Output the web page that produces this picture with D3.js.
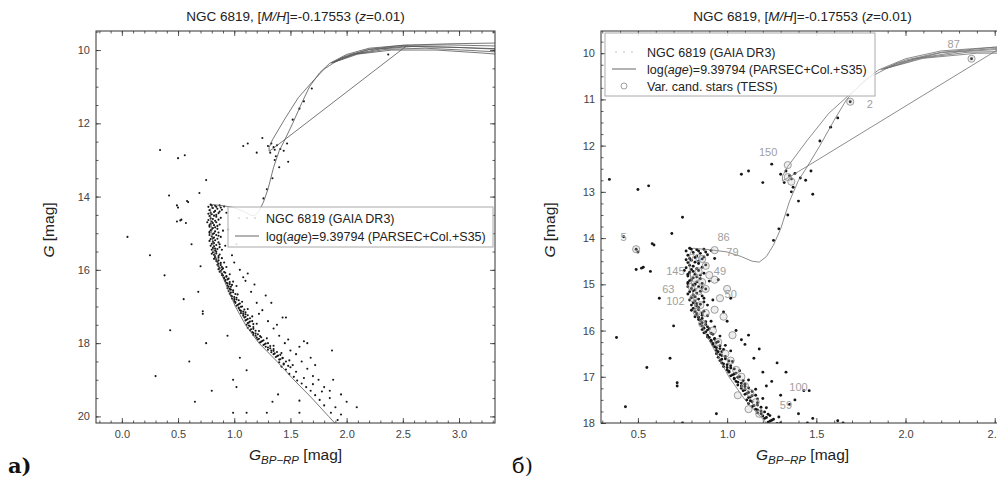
<!DOCTYPE html>
<html lang="ru">
<head>
<meta charset="UTF-8">
<title>NGC 6819 CMD</title>
<script src="https://d3js.org/d3.v7.min.js"></script>
<style>
  body { margin: 0; background: #fff; }
  svg { display: block; font-family: "Liberation Sans", Arial, sans-serif; }
  .axis path { display: none; }
  .axis line { stroke: #333; stroke-width: 0.8; }
  .axis text { fill: #444; font-size: 11px; font-family: "Liberation Sans", Arial, sans-serif; }
</style>
</head>
<body>
<svg id="chart" width="997" height="479"></svg>
<script>
// ---- data: [colour G_BP-RP, magnitude G] ----
const turnoffStars = [
  [0.79,14.22],[0.83,14.25],[0.87,14.24],[0.91,14.27],[0.81,14.31],[0.85,14.33],[0.78,14.37],[0.89,14.36],
  [0.82,14.42],[0.86,14.45],[0.80,14.48],[0.93,14.44],[0.78,14.53],[0.84,14.55],[0.88,14.58],[0.81,14.61],
  [0.77,14.64],[0.80,14.68],[0.84,14.70],[0.79,14.74],[0.82,14.78],[0.87,14.76],[0.78,14.82],[0.81,14.86],
  [0.85,14.88],[0.79,14.92],[0.83,14.95],[0.90,14.93],[0.78,14.99],[0.81,15.02],[0.84,15.05],[0.80,15.09],
  [0.82,15.12],[0.88,15.10],[0.79,15.16],[0.83,15.19],[0.81,15.23],[0.86,15.25],[0.80,15.29],[0.84,15.32],
  [0.82,15.36],[0.92,15.34],[0.81,15.40],[0.85,15.43],[0.83,15.47],[0.89,15.45]
];
const turnoffStars2 = [
  [0.80,14.24],[0.84,14.28],[0.88,14.30],[0.77,14.28],[0.83,14.39],[0.87,14.41],[0.79,14.44],[0.84,14.50],
  [0.77,14.47],[0.82,14.52],[0.86,14.63],[0.79,14.59],[0.83,14.66],[0.76,14.70],[0.81,14.72],[0.85,14.80],
  [0.78,14.78],[0.83,14.84],[0.80,14.90],[0.86,14.98],[0.78,14.96],[0.82,15.00],[0.86,15.07],[0.78,15.05],
  [0.81,15.14],[0.85,15.15],[0.78,15.21],[0.82,15.27],[0.87,15.30],[0.79,15.34],[0.83,15.42],[0.80,15.45],
  [0.87,15.38],[0.84,15.50]
];
const msStars = [
  [0.81,15.52],[0.84,15.55],[0.82,15.59],[0.86,15.62],[0.83,15.66],[0.89,15.68],[0.84,15.71],[0.86,15.74],
  [0.85,15.78],[0.91,15.80],[0.86,15.83],[0.88,15.87],[0.86,15.90],[0.93,15.92],[0.87,15.95],[0.89,15.99],
  [0.88,16.03],[0.91,16.06],[0.89,16.10],[0.96,16.12],[0.90,16.15],[0.93,16.19],[0.91,16.23],[0.94,16.26],
  [0.92,16.30],[0.99,16.32],[0.93,16.35],[0.96,16.39],[0.94,16.43],[0.97,16.46],[1.02,16.44],
  [0.94,16.50],[0.97,16.54],[0.95,16.58],[0.99,16.61],[0.96,16.65],[1.03,16.67],[0.97,16.70],[1.00,16.74],
  [0.98,16.78],[1.02,16.81],[1.00,16.85],[1.07,16.87],[1.01,16.90],[1.04,16.94],[1.02,16.98],[1.06,17.01],
  [1.04,17.05],[1.12,17.07],[1.05,17.10],[1.08,17.14],[1.06,17.18],[1.10,17.21],[1.08,17.25],[1.16,17.27],
  [1.09,17.30],[1.12,17.34],[1.10,17.38],[1.14,17.41],[1.12,17.45],[1.20,17.47],
  [1.11,17.50],[1.14,17.54],[1.12,17.58],[1.17,17.61],[1.14,17.65],[1.22,17.67],[1.16,17.70],[1.19,17.74],
  [1.17,17.78],[1.23,17.81],[1.20,17.85],[1.29,17.87],[1.21,17.90],[1.25,17.94],[1.23,17.98],[1.28,18.01],
  [1.26,18.05],[1.35,18.07],[1.28,18.10],[1.32,18.14],[1.30,18.18],[1.35,18.21],[1.33,18.25],[1.42,18.27],
  [1.35,18.30],[1.39,18.34],[1.37,18.38],[1.43,18.41],[1.40,18.45],[1.49,18.47]
];
const msStars2 = [
  [0.80,15.56],[0.83,15.63],[0.87,15.58],[0.82,15.70],[0.86,15.67],[0.84,15.76],[0.88,15.81],[0.85,15.86],
  [0.89,15.92],[0.86,15.98],[0.90,15.96],[0.87,16.05],[0.92,16.08],[0.89,16.14],[0.93,16.17],[0.91,16.21],
  [0.95,16.24],[0.92,16.28],[0.96,16.33],[0.94,16.37],[0.98,16.41],[0.95,16.46],
  [0.96,16.52],[0.99,16.56],[0.97,16.62],[1.01,16.66],[0.98,16.72],[1.02,16.76],[1.00,16.80],[1.04,16.83],
  [1.01,16.88],[1.05,16.92],[1.03,16.96],[1.07,17.00],[1.04,17.03],[1.09,17.08],[1.06,17.12],[1.10,17.16],
  [1.08,17.20],[1.12,17.24],[1.10,17.28],[1.14,17.32],[1.11,17.36],[1.16,17.40],[1.13,17.44],[1.17,17.48],
  [1.13,17.52],[1.17,17.56],[1.15,17.62],[1.19,17.66],[1.17,17.72],[1.21,17.76],[1.19,17.80],[1.24,17.84],
  [1.22,17.88],[1.26,17.92],[1.24,17.96],[1.30,18.00],[1.27,18.03],[1.32,18.08],[1.30,18.12],[1.35,18.16],
  [1.33,18.20],[1.38,18.24],[1.36,18.28],[1.41,18.32],[1.38,18.36],[1.43,18.40],[1.41,18.44],[1.46,18.50],
  [1.44,18.56],[1.48,18.62]
];
const faintStars = [
  [1.40,18.52],[1.44,18.58],[1.42,18.64],[1.50,18.66],[1.46,18.72],[1.55,18.78],[1.49,18.84],[1.53,18.92],
  [1.62,18.95],[1.56,19.02],[1.60,19.10],[1.70,19.12],[1.64,19.20],[1.68,19.30],[1.78,19.32],[1.72,19.42],
  [1.76,19.55],[1.85,19.50],[1.80,19.70],[1.90,19.75],[1.86,19.90],[1.95,19.95],[1.92,20.10]
];
const binaryStars = [
  [1.00,15.80],[1.05,16.00],[1.10,16.30],[1.15,16.60],[1.08,16.20],[1.20,16.90],[1.25,17.10],[1.30,17.40],
  [1.22,17.20],[1.35,17.60],[1.40,17.80],[1.45,18.00],[1.38,17.50],[1.50,18.20],[1.55,18.30],[1.60,18.50],
  [1.48,17.90],[1.65,18.70],[1.70,18.90],[1.58,18.10],[1.75,19.00],[1.80,19.20],[1.68,18.40],[1.85,19.30],
  [1.95,19.40],[2.00,19.60],[1.62,17.95],[1.72,18.60],[1.88,19.00],[1.52,18.60],[1.43,17.30],[1.33,16.90],
  [1.28,16.70],[1.18,16.40],[1.12,16.10],[0.98,15.60],[1.02,15.30],[0.95,14.90],[1.46,17.30],[1.65,18.00],
  [1.87,18.20],[2.09,19.75],[1.34,19.60],[1.58,19.57]
];
const giantStars = [
  [1.33,12.55],[1.35,12.65],[1.36,12.72],[1.38,12.60],[1.41,12.70],[1.44,12.75],[1.30,12.62],[1.32,12.80],
  [1.47,12.55],[1.37,12.90],[1.40,13.20],[1.34,13.50],[1.29,13.80],[1.26,14.05],[1.36,13.00],[1.48,13.05],
  [1.52,11.90],[1.62,11.40],[1.25,12.40],[1.20,12.80],[1.58,11.60],[1.08,12.62],[1.12,12.55],[1.69,11.05],
  [2.37,10.12]
];
const fieldStars = [
  [0.34,12.73],[0.50,12.95],[0.56,12.87],[0.75,13.55],[0.69,13.90],[0.59,14.15],[0.50,14.30],[0.52,14.65],
  [0.05,15.10],[0.25,15.60],[0.38,16.15],[0.43,17.65],[0.55,16.80],[0.60,18.50],[0.30,18.90],[0.65,19.60],
  [0.58,14.12],[0.62,15.30],[0.70,15.90],[0.68,16.60],[0.72,17.20],[0.75,18.00],[0.80,19.30],[0.99,19.90],
  [1.11,19.90],[1.39,19.40],[1.29,19.90],[1.58,19.90],[0.99,19.00],[1.02,19.20],[0.94,17.80],[1.05,18.40],
  [1.11,18.74],[0.42,13.97],[0.49,14.24],[0.49,14.68],[0.53,14.63],[0.57,14.72],[0.72,17.13]
];

// isochrone log(age)=9.39794, drawn as a bundle of tracks
const isoRgb = [
  [1.90,20.20],[1.84,20.00],[1.69,19.50],[1.53,19.00],[1.38,18.50],[1.22,18.00],[1.10,17.50],[1.01,17.00],
  [0.94,16.50],[0.87,16.00],[0.82,15.50],[0.80,15.00],[0.79,14.60],[0.79,14.35],[0.81,14.22],[0.90,14.25],
  [1.00,14.30],[1.08,14.40],[1.14,14.50],[1.18,14.52],[1.22,14.40],[1.26,14.15],[1.30,13.80],[1.35,13.20],
  [1.40,12.75],[1.45,12.45],[1.52,12.00],[1.60,11.45],[1.67,11.00],[1.76,10.62],[1.85,10.36],[2.00,10.12],
  [2.20,9.95],[2.50,9.87],[2.90,9.86],[3.50,9.90]
];
const isoHb = [
  [2.54,9.87],[1.46,12.42],[1.40,12.56],[1.34,12.70],[1.31,12.76],[1.31,12.66],[1.34,12.45],[1.45,11.88],
  [1.57,11.30],[1.69,10.88],[1.80,10.52],[1.95,10.22],[2.20,9.99],[2.50,9.90],[2.90,9.92],[3.50,9.98]
];
const isoAgb = [
  [[1.86,10.36],[2.00,10.15],[2.20,9.98],[2.50,9.87],[2.90,9.83],[3.50,9.80]],
  [[1.87,10.35],[2.05,10.12],[2.30,9.97],[2.60,9.90],[3.00,9.93],[3.50,10.00]],
  [[1.88,10.34],[2.08,10.11],[2.35,9.98],[2.70,9.95],[3.10,10.01],[3.50,10.08]],
  [[1.89,10.33],[2.10,10.11],[2.40,10.00],[2.80,10.00],[3.20,10.08],[3.50,10.15]]
];

// variable candidate stars (TESS), right panel only
const varStars = [
  [0.49,14.24],[0.93,14.26],[0.86,14.45],[0.88,14.60],[0.84,14.72],[0.90,14.80],[0.82,14.88],[0.86,14.95],
  [0.93,14.90],[0.80,15.05],[0.84,15.15],[0.88,15.10],[0.96,15.30],[0.81,15.30],[0.85,15.45],[0.83,15.60],
  [0.88,15.62],[0.93,15.55],[0.86,15.85],[0.92,16.00],[0.95,16.25],[0.99,16.50],[1.02,16.65],[1.05,16.85],
  [1.08,17.00],[1.10,17.20],[1.13,17.35],[1.06,17.40],[1.16,17.55],[1.12,17.70],[1.18,17.80],[1.34,12.42],
  [1.34,12.68],[1.36,12.78],[1.69,11.05],[2.37,10.12],[1.00,15.10],[0.98,15.70],[1.03,16.10]
];
const varLabels = [
  ["5",0.42,13.97],["86",0.98,13.98],["79",1.03,14.30],["78",0.82,14.42],["145",0.71,14.72],["49",0.96,14.72],
  ["63",0.67,15.10],["102",0.71,15.37],["50",1.02,15.22],["150",1.23,12.13],["87",2.27,9.80],["100",1.40,17.22],
  ["59",1.33,17.62],["2",1.80,11.10]
];

// axis ticks
const xTicksA = [0, 0.5, 1, 1.5, 2, 2.5, 3];
const yTicksA = [10, 12, 14, 16, 18, 20];
const xTicksB = [0.5, 1, 1.5, 2, 2.5];
const yTicksB = [10, 11, 12, 13, 14, 15, 16, 17, 18];

const legendNames = ["NGC 6819 (GAIA DR3)", "log(age)=9.39794 (PARSEC+Col.+S35)", "Var. cand. stars (TESS)"];

const svg = d3.select("#chart");
const allStars = [].concat(turnoffStars, turnoffStars2, msStars, msStars2, faintStars, binaryStars, giantStars, fieldStars);

function drawPanel(p) {
    const x = d3.scaleLinear().domain(p.xDom).range([p.x0, p.x1]);
    const y = d3.scaleLinear().domain(p.yDom).range([p.y0, p.y1]);
    const g = svg.append("g");

    g.append("clipPath").attr("id", p.id + "-clip")
        .append("rect").attr("x", p.x0).attr("y", p.y0)
        .attr("width", p.x1 - p.x0).attr("height", p.y1 - p.y0);
    const plot = g.append("g").attr("clip-path", `url(#${p.id}-clip)`);

    // stars
    plot.append("g").selectAll("circle")
        .data(allStars).enter().append("circle")
        .attr("cx", d => x(d[0])).attr("cy", d => y(d[1]))
        .attr("r", p.starR).attr("fill", "#161616");

    // isochrone
    const line = d3.line().x(d => x(d[0])).y(d => y(d[1]));
    const tracks = [isoRgb, isoHb].concat(isoAgb);
    plot.append("g").selectAll("path")
        .data(tracks).enter().append("path")
        .attr("d", line).attr("fill", "none")
        .attr("stroke", p.lineColor).attr("stroke-width", 0.8);

    if (p.showVar) {
        plot.append("g").selectAll("circle")
            .data(varStars).enter().append("circle")
            .attr("cx", d => x(d[0])).attr("cy", d => y(d[1]))
            .attr("r", 3.6).attr("fill", "#bbb").attr("fill-opacity", 0.25)
            .attr("stroke", "#8a8a8a").attr("stroke-width", 0.8);
        plot.append("g").selectAll("text")
            .data(varLabels).enter().append("text")
            .attr("x", d => x(d[1])).attr("y", d => y(d[2]) + 4)
            .attr("text-anchor", "middle")
            .style("font-size", "11px").style("fill", "#a0a0a0")
            .text(d => d[0]);
    }

    // axes with inward ticks on all four sides
    const minorX = d3.range(-1, 4.01, 0.1).map(v => +v.toFixed(2)).filter(v => v >= p.xDom[0] && v <= p.xDom[1]);
    const minorY = d3.range(9, 21.01, p.yMinor).map(v => +v.toFixed(2)).filter(v => v >= p.yDom[0] && v <= p.yDom[1]);

    const axes = [
        [d3.axisBottom(x).tickValues(p.xTicks).tickSize(-5).tickPadding(7).tickFormat(d3.format(".1f")), `translate(0,${p.y1})`],
        [d3.axisBottom(x).tickValues(minorX).tickSize(-2.5).tickFormat(""), `translate(0,${p.y1})`],
        [d3.axisTop(x).tickValues(p.xTicks).tickSize(-5).tickFormat(""), `translate(0,${p.y0})`],
        [d3.axisTop(x).tickValues(minorX).tickSize(-2.5).tickFormat(""), `translate(0,${p.y0})`],
        [d3.axisLeft(y).tickValues(p.yTicks).tickSize(-5).tickPadding(6).tickFormat(d3.format("d")), `translate(${p.x0},0)`],
        [d3.axisLeft(y).tickValues(minorY).tickSize(-2.5).tickFormat(""), `translate(${p.x0},0)`],
        [d3.axisRight(y).tickValues(p.yTicks).tickSize(-5).tickFormat(""), `translate(${p.x1},0)`],
        [d3.axisRight(y).tickValues(minorY).tickSize(-2.5).tickFormat(""), `translate(${p.x1},0)`]
    ];
    axes.forEach(a => g.append("g").attr("class", "axis").attr("transform", a[1]).call(a[0]));

    g.append("rect").attr("x", p.x0).attr("y", p.y0)
        .attr("width", p.x1 - p.x0).attr("height", p.y1 - p.y0)
        .attr("fill", "none").attr("stroke", "#333").attr("stroke-width", 1);

    // legend
    const L = p.legend;
    const lg = g.append("g");
    lg.append("rect").attr("x", L.x).attr("y", L.y).attr("width", L.w).attr("height", L.h)
        .attr("fill", "#fff").attr("fill-opacity", 0.85)
        .attr("stroke", "#aaa").attr("stroke-width", 1);
    const rows = p.showVar ? 3 : 2;
    for (let i = 0; i < rows; i++) {
        const cy = L.y + L.first + i * L.step;
        if (i === 0) {
            [-8, 0, 8].forEach(dx => lg.append("circle").attr("cx", L.mx + dx).attr("cy", cy)
                .attr("r", 0.8).attr("fill", "#bbb"));
        } else if (i === 1) {
            lg.append("line").attr("x1", L.mx - 12).attr("x2", L.mx + 12).attr("y1", cy).attr("y2", cy)
                .attr("stroke", "#666").attr("stroke-width", 1);
        } else {
            lg.append("circle").attr("cx", L.mx).attr("cy", cy).attr("r", 3)
                .attr("fill", "none").attr("stroke", "#888").attr("stroke-width", 0.8);
        }
        const t = lg.append("text").attr("x", L.tx).attr("y", cy + 4.5)
            .style("font-size", "12.5px").style("fill", "#222");
        if (i === 1) {
            t.append("tspan").text("log(");
            t.append("tspan").style("font-style", "italic").text("age");
            t.append("tspan").text(")=9.39794 (PARSEC+Col.+S35)");
        } else {
            t.text(legendNames[i]);
        }
    }

    // title
    const cx = (p.x0 + p.x1) / 2;
    const title = g.append("text").attr("x", cx).attr("y", 21)
        .attr("text-anchor", "middle").style("font-size", "13.5px").style("fill", "#222");
    title.append("tspan").text("NGC 6819, [");
    title.append("tspan").style("font-style", "italic").text("M/H");
    title.append("tspan").text("]=-0.17553 (");
    title.append("tspan").style("font-style", "italic").text("z");
    title.append("tspan").text("=0.01)");

    // x label
    const xl = g.append("text").attr("x", cx).attr("y", 460)
        .attr("text-anchor", "middle").style("font-size", "15.5px").style("fill", "#222");
    xl.append("tspan").style("font-style", "italic").text("G");
    xl.append("tspan").attr("dy", 4).style("font-style", "italic").style("font-size", "11.5px").text("BP\u2212RP");
    xl.append("tspan").attr("dy", -4).text(" [mag]");

    // y label
    const yl = g.append("text")
        .attr("transform", `translate(${p.x0 - p.yLabelOff},${(p.y0 + p.y1) / 2 + 3}) rotate(-90)`)
        .attr("text-anchor", "middle").style("font-size", "15.5px").style("fill", "#222");
    yl.append("tspan").style("font-style", "italic").text("G");
    yl.append("tspan").text(" [mag]");

    // panel letter
    g.append("text").attr("x", p.letterX).attr("y", 473)
        .style("font-family", "'DejaVu Serif', 'Liberation Serif', serif")
        .style("font-size", "21px").style("font-weight", p.letterBold ? "bold" : "normal")
        .style("fill", "#111").text(p.letter);
}

drawPanel({
    id: "a", x0: 96, x1: 495, y0: 31, y1: 423,
    xDom: [-0.23, 3.32], yDom: [9.48, 20.18],
    xTicks: xTicksA, yTicks: yTicksA, yMinor: 0.5,
    starR: 1.05, lineColor: "#555", showVar: false, yLabelOff: 42,
    legend: { x: 228, y: 207, w: 265, h: 40, first: 11, step: 18, mx: 247, tx: 266 },
    letter: "а)", letterX: 8, letterBold: true
});

drawPanel({
    id: "b", x0: 601, x1: 1004, y0: 31, y1: 423,
    xDom: [0.293, 2.552], yDom: [9.52, 18.0],
    xTicks: xTicksB, yTicks: yTicksB, yMinor: 0.25,
    starR: 1.45, lineColor: "#707070", showVar: true, yLabelOff: 46,
    legend: { x: 605, y: 33, w: 270, h: 63, first: 19, step: 17, mx: 624, tx: 647 },
    letter: "б)", letterX: 512, letterBold: false
});
</script>
</body>
</html>
